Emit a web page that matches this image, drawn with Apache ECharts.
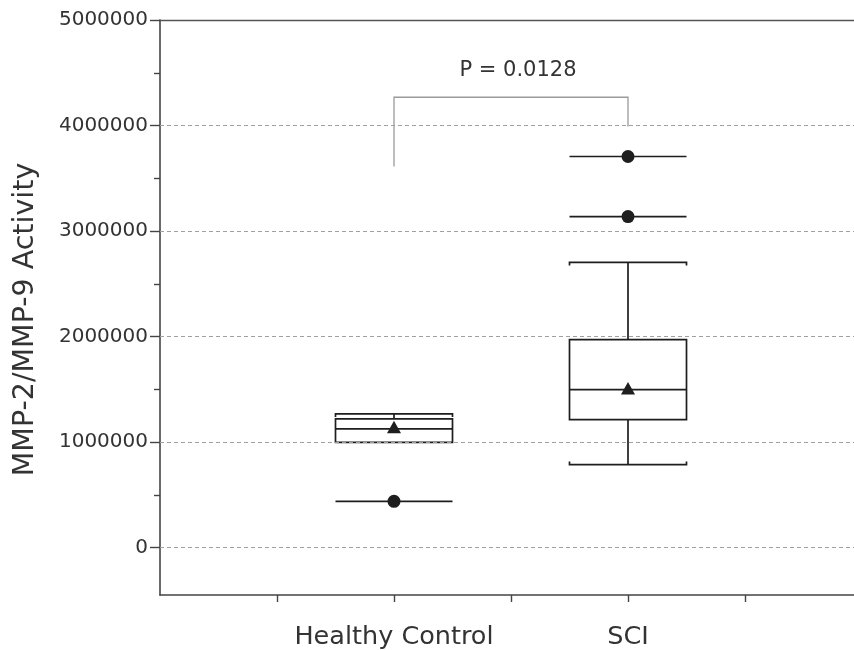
<!DOCTYPE html>
<html>
<head>
<meta charset="utf-8">
<script src="https://cdn.jsdelivr.net/npm/echarts@6/dist/echarts.min.js"></script>
<style>
  html, body { margin: 0; padding: 0; background: #ffffff; }
  #chart { width: 854px; height: 650px; }
</style>
</head>
<body>
<div id="chart"></div>
<script>
// ---- data ----
const categories = ['Healthy Control', 'SCI'];
const whiskerLow = [997000, 786000];
const q1 = [997000, 1212000];
const median = [1124000, 1496000];
const q3 = [1219000, 1970000];
const whiskerHigh = [1266000, 2702000];
const means = [1136000, 1503000];
const outliers = [[438000], [3706000, 3137000]];
const yTicks = [0, 1000000, 2000000, 3000000, 4000000, 5000000];
const yMinorTicks = [500000, 1500000, 2500000, 3500000, 4500000];
const gridValues = [0, 1000000, 2000000, 3000000, 4000000];
const pValueLabel = 'P = 0.0128';
const bracketTop = 4268000;
const bracketLeftEnd = 3611000;
const bracketRightEnd = 3990000;

// ---- layout helpers ----
// axis slots: categories sit on slots 2 and 4 of a 0..6 axis
const slotOf = [2, 4];
const axisData = ['', '', '', '', '', '', ''];
categories.forEach((c, i) => { axisData[slotOf[i]] = c; });

const FONT = 'DejaVu Sans';
const INK = '#1e1e1e';
const TEXT = '#333333';

const boxData = categories.map((c, i) => [slotOf[i], whiskerLow[i], q1[i], median[i], q3[i], whiskerHigh[i], means[i]]);
const outlierData = [];
outliers.forEach((arr, i) => arr.forEach(v => outlierData.push([slotOf[i], v])));

const chart = echarts.init(document.getElementById('chart'), null, { renderer: 'canvas' });

const lineStyle = { stroke: INK, lineWidth: 1.7 };

function renderBox(params, api) {
  const x = api.value(0);
  const w = api.size([1, 0])[0];
  const hw = w / 2;
  const cx = api.coord([x, 0])[0];
  const yLo = api.coord([x, api.value(1)])[1];
  const yQ1 = api.coord([x, api.value(2)])[1];
  const yMed = api.coord([x, api.value(3)])[1];
  const yQ3 = api.coord([x, api.value(4)])[1];
  const yHi = api.coord([x, api.value(5)])[1];
  const yMean = api.coord([x, api.value(6)])[1];
  const ch = [];
  if (Math.abs(yLo - yQ1) > 0.5) {
    ch.push({ type: 'line', shape: { x1: cx, y1: yQ1, x2: cx, y2: yLo }, style: lineStyle });
    ch.push({ type: 'polyline', shape: { points: [[cx - hw, yLo - 3], [cx - hw, yLo], [cx + hw, yLo], [cx + hw, yLo - 3]] }, style: Object.assign({ fill: null }, lineStyle) });
  }
  ch.push({ type: 'line', shape: { x1: cx, y1: yQ3, x2: cx, y2: yHi }, style: lineStyle });
  ch.push({ type: 'polyline', shape: { points: [[cx - hw, yHi + 3], [cx - hw, yHi], [cx + hw, yHi], [cx + hw, yHi + 3]] }, style: Object.assign({ fill: null }, lineStyle) });
  ch.push({ type: 'rect', shape: { x: cx - hw, y: yQ3, width: w, height: yQ1 - yQ3 }, style: { fill: '#ffffff', stroke: INK, lineWidth: 1.7 } });
  ch.push({ type: 'line', shape: { x1: cx - hw, y1: yMed, x2: cx + hw, y2: yMed }, style: lineStyle });
  ch.push({ type: 'polygon', shape: { points: [[cx, yMean - 7], [cx - 7, yMean + 5.5], [cx + 7, yMean + 5.5]] }, style: { fill: INK } });
  return { type: 'group', children: ch };
}

function renderOutlier(params, api) {
  const x = api.value(0);
  const w = api.size([1, 0])[0];
  const hw = w / 2;
  const p = api.coord([x, api.value(1)]);
  return {
    type: 'group',
    children: [
      { type: 'line', shape: { x1: p[0] - hw, y1: p[1], x2: p[0] + hw, y2: p[1] }, style: lineStyle },
      { type: 'circle', shape: { cx: p[0], cy: p[1], r: 6.5 }, style: { fill: INK } }
    ]
  };
}

function renderBracket(params, api) {
  const xa = api.coord([api.value(0), api.value(2)]);
  const xb = api.coord([api.value(1), api.value(2)]);
  const yl = api.coord([api.value(0), api.value(3)])[1];
  const yr = api.coord([api.value(1), api.value(4)])[1];
  const yt = xa[1];
  return {
    type: 'group',
    children: [
      { type: 'polyline', shape: { points: [[xa[0], yl], [xa[0], yt], [xb[0], yt], [xb[0], yr]] }, style: { fill: null, stroke: '#9a9a9a', lineWidth: 1.3 } },
      { type: 'text', style: { text: pValueLabel, x: (xa[0] + xb[0]) / 2 + 7, y: yt - 27, align: 'center', verticalAlign: 'middle', fontSize: 21, fontFamily: FONT, fill: TEXT } }
    ]
  };
}

const plainNumber = v => String(Math.round(v));

const option = {
  backgroundColor: '#ffffff',
  animation: false,
  grid: { left: 160, top: 20, width: 702, height: 575, containLabel: false, outerBoundsMode: 'none' },
  xAxis: [
    {
      type: 'category',
      data: axisData,
      boundaryGap: false,
      axisLine: { show: true, onZero: false, lineStyle: { color: '#444', width: 1.6 } },
      axisTick: { show: true, interval: (i) => i !== 0, length: 7, inside: false, lineStyle: { color: '#444', width: 1.4 } },
      axisLabel: { interval: 0, margin: 29, fontSize: 25.5, fontFamily: FONT, color: TEXT },
      splitLine: { show: false }
    },
    {
      type: 'category',
      data: axisData,
      boundaryGap: false,
      position: 'top',
      axisLine: { show: true, onZero: false, lineStyle: { color: '#555', width: 1.4 } },
      axisTick: { show: false },
      axisLabel: { show: false },
      splitLine: { show: false }
    }
  ],
  yAxis: [
    {
      type: 'value',
      min: -450000,
      max: 5000000,
      name: 'MMP-2/MMP-9 Activity',
      nameLocation: 'middle',
      nameGap: 120,
      nameTextStyle: { fontSize: 28.5, fontFamily: FONT, color: TEXT, padding: [0, 24, 0, 0] },
      axisLine: { show: true, onZero: false, lineStyle: { color: '#444', width: 1.6 } },
      axisTick: { show: true, length: 10, customValues: yTicks, lineStyle: { color: '#444', width: 1.4 } },
      axisLabel: { customValues: yTicks, formatter: plainNumber, margin: 12, fontSize: 20, fontFamily: FONT, color: TEXT },
      splitLine: { show: false }
    },
    {
      type: 'value',
      min: -450000,
      max: 5000000,
      position: 'left',
      axisLine: { show: false, onZero: false },
      axisTick: { show: true, length: 6, customValues: yMinorTicks, lineStyle: { color: '#444', width: 1.4 } },
      axisLabel: { show: false, customValues: yMinorTicks },
      splitLine: { show: false }
    }
  ],
  series: [
    {
      type: 'line',
      data: [],
      z: 1,
      silent: true,
      markLine: {
        silent: true,
        symbol: 'none',
        label: { show: false },
        lineStyle: { color: '#a0a0a0', type: [4, 3], width: 1.1 },
        data: gridValues.map(v => ({ yAxis: v }))
      }
    },
    {
      type: 'custom',
      z: 3,
      silent: true,
      renderItem: renderBracket,
      data: [[slotOf[0], slotOf[1], bracketTop, bracketLeftEnd, bracketRightEnd]],
      encode: { x: 0, y: 2 }
    },
    {
      type: 'custom',
      z: 4,
      silent: true,
      renderItem: renderBox,
      data: boxData,
      encode: { x: 0, y: [1, 2, 3, 4, 5] }
    },
    {
      type: 'custom',
      z: 5,
      silent: true,
      renderItem: renderOutlier,
      data: outlierData,
      encode: { x: 0, y: 1 }
    }
  ]
};
chart.setOption(option);
</script>
</body>
</html>
